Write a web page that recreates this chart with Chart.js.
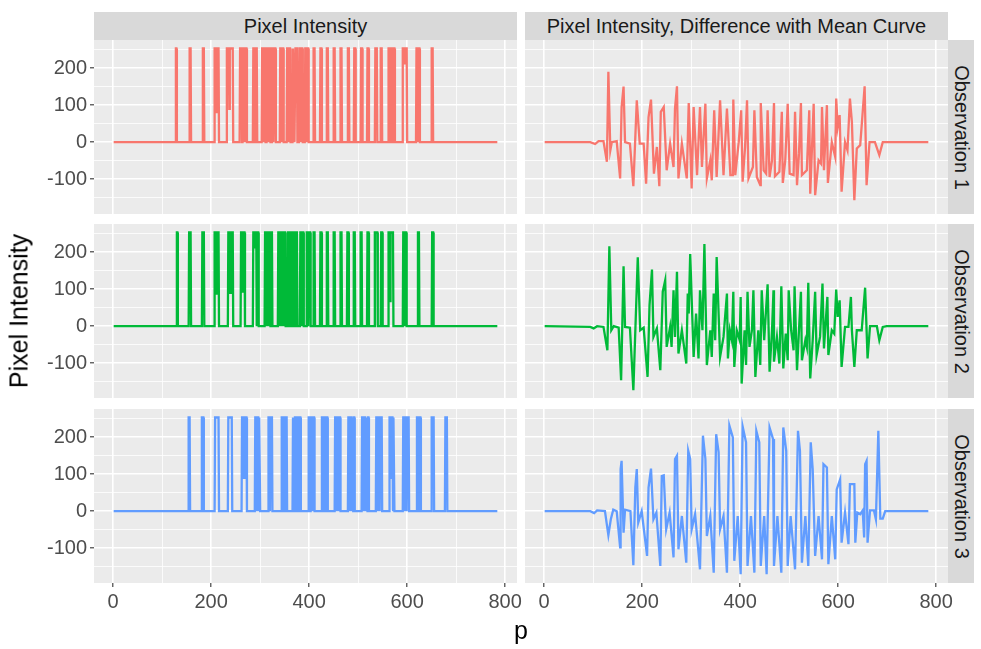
<!DOCTYPE html>
<html>
<head>
<meta charset="utf-8">
<script src="https://cdn.jsdelivr.net/npm/chart.js@4.4.0/dist/chart.umd.min.js"></script>
<style>
  body { margin: 0; background: #fff; }
  #wrap { position: relative; width: 981px; height: 649px; font-family: "Liberation Sans", Arial, sans-serif; }
  #wrap canvas { position: absolute; }
  .strip { position: absolute; background: #D9D9D9; color: #1A1A1A; font-size: 20px;
           display: flex; align-items: center; justify-content: center; }
  .strip.side span { transform: rotate(90deg); white-space: nowrap; }
  .axis-title { position: absolute; color: #000; font-size: 25px; white-space: nowrap; transform: translate(-50%, -50%); }
</style>
</head>
<body>
<div id="wrap"></div>
<script>
// axis breaks
const xMajor = [0, 200, 400, 600, 800];
const xMinor = [100, 300, 500, 700];
const yMajor = [-100, 0, 100, 200];
const yMinor = [-150, -50, 50, 150, 250];

const facetCols = ["Pixel Intensity", "Pixel Intensity, Difference with Mean Curve"];
const facetRows = ["Observation 1", "Observation 2", "Observation 3"];
const rowColors = ["#F8766D", "#00BA38", "#619CFF"];

// raw pixel intensities: [first p, last p, level]; level defaults to 253
const obs1Pulses = [
  [128,129],[156,158],[183,185],[207,209],[210,210,81],[211,215],[232,236],[237,237,90],[238,244],
  [259,262],[264,267],[269,272],[286,288],[291,293],[304,306],[308,310],[314,316],[318,320],
  [324,326],[329,331],[341,343],[345,347],[355,357],[359,361],[367,369],[372,375],[380,382],
  [384,386],[392,394],[396,398],[409,411],[423,425],[436,438],[450,452],[464,466],[479,481],
  [492,494],[506,508],[519,521],[535,538],[546,548],[562,564],[566,569],[571,574],[591,594],
  [595,595,210],[596,599],[619,621],[623,625],[650,652]
];
const obs2Pulses = [
  [130,131],[155,158],[182,185],[207,210],[211,211,85],[212,215],[235,238],[239,239,90],[240,244],
  [261,263],[264,264,90],[265,268],[286,288],[289,289,210],[290,292],[294,296],[310,312],[314,316],
  [318,320],[322,324],[337,339],[341,343],[345,347],[349,351],[357,359],[362,364],[368,370],
  [373,375],[382,384],[386,388],[395,397],[400,402],[409,411],[423,425],[436,438],[450,452],
  [464,466],[478,480],[491,493],[505,507],[519,521],[534,536],[537,539],[547,549],[562,564],
  [565,565,68],[566,568],[569,571],[592,594],[596,598],[622,624],[651,653]
];
const obs3Pulses = [
  [154,156],[181,184],[208,211],[212,215],[235,238],[239,242],[263,266],[267,267,90],[268,272],
  [290,292],[294,296],[298,299],[317,319],[321,324],[344,346],[348,350],[352,354],[367,369],
  [371,373],[375,377],[379,382],[399,401],[403,406],[408,410],[426,428],[430,432],[434,437],
  [453,455],[457,459],[461,463],[480,482],[484,486],[488,489],[491,492],[508,510],[512,514],
  [516,518],[520,521],[537,539],[541,543],[545,548],[564,566],[567,567,90],[568,570],[572,573],
  [592,594],[596,598],[600,603],[620,622],[624,627],[650,652],[653,654],[678,679],[680,681]
];

// difference with the mean curve: [p, value] vertices
const obs1Diff = [
  [1,0],[94,0],[104,-5],[111,3],[121,3],[128,-53],[131,190],[135,-22],[138,0],[148,3],[155,-98],
  [158,95],[162,150],[165,0],[175,-4],[182,-119],[189,113],[195,-4],[203,-4],[208,-112],[213,68],
  [218,115],[224,-85],[230,-13],[235,-119],[238,82],[244,95],[250,-76],[257,-4],[264,-67],[267,91],
  [271,151],[274,-98],[281,-4],[291,-98],[295,106],[301,-125],[305,95],[312,-89],[318,95],[322,-67],
  [329,104],[332,-98],[339,-49],[342,-103],[347,86],[352,-94],[359,113],[366,-89],[373,91],[380,-89],
  [385,-89],[386,115],[390,-89],[397,0],[402,86],[405,-107],[410,-13],[414,113],[417,-98],[426,-67],
  [429,86],[434,-94],[441,-116],[442,106],[448,-76],[453,-85],[456,86],[460,-94],[465,-49],[469,106],
  [471,-92],[480,-80],[485,82],[487,-110],[492,-49],[497,104],[501,-85],[509,-89],[512,82],[516,-116],
  [520,-31],[524,106],[526,-89],[536,-76],[541,86],[543,-139],[550,104],[553,-143],[560,-49],[565,-58],
  [567,95],[571,-76],[577,100],[579,-110],[587,0],[594,-40],[596,118],[599,41],[603,73],[607,-134],
  [614,0],[619,-22],[624,118],[628,55],[633,-157],[638,-17],[645,-8],[654,151],[658,-116],[664,0],
  [675,0],[684,-35],[691,0],[784,0]
];
const obs2Diff = [
  [1,0],[94,-2],[101,-6],[108,0],[121,-2],[129,-65],[133,216],[137,-11],[142,0],[152,-4],[157,-146],
  [162,162],[165,-2],[175,-4],[182,-173],[191,186],[196,-11],[203,-4],[211,-137],[215,57],[220,153],
  [223,-29],[230,-6],[237,-119],[242,93],[247,124],[250,-56],[257,-2],[260,-56],[264,97],[267,-29],
  [271,147],[274,-74],[281,-11],[290,-101],[293,88],[295,34],[298,195],[305,-83],[310,34],[315,-87],
  [318,97],[323,-11],[327,222],[332,-105],[339,-11],[342,-83],[346,88],[349,-38],[352,187],[359,-83],
  [366,-29],[373,88],[375,-87],[379,-11],[383,-38],[386,93],[388,-110],[393,-11],[399,-38],[401,79],
  [403,-155],[409,-11],[412,-105],[415,93],[419,-56],[424,-11],[427,97],[431,-137],[437,-11],[441,-105],
  [444,97],[449,-38],[456,113],[460,-123],[465,-11],[468,97],[469,-96],[475,-29],[480,-101],[484,108],
  [488,-114],[493,-20],[497,-92],[499,97],[504,-11],[509,-65],[511,108],[516,-119],[520,-11],[524,93],
  [526,-92],[533,-38],[536,-56],[539,117],[543,-141],[548,-38],[553,93],[556,-78],[563,-29],[568,115],
  [571,-60],[578,79],[580,-78],[587,-11],[592,-20],[596,99],[599,25],[603,70],[607,-110],[614,-2],
  [621,-2],[626,79],[628,-11],[633,-110],[638,-11],[648,-11],[655,104],[660,-87],[665,0],[679,0],
  [684,-38],[691,-2],[699,0],[784,0]
];
const obs3Diff = [
  [1,0],[94,0],[102,-5],[108,2],[124,0],[131,-65],[136,-22],[141,4],[148,0],[155,-98],[156,114],
  [158,136],[162,-58],[165,4],[176,0],[182,-146],[186,64],[189,114],[192,-31],[199,0],[210,-121],
  [213,64],[218,115],[223,-22],[229,-4],[237,-148],[240,95],[244,97],[249,-49],[256,-4],[264,-125],
  [267,141],[271,150],[274,-103],[281,-13],[290,-139],[294,163],[298,141],[301,-49],[308,-8],[318,-157],
  [324,204],[329,141],[332,-67],[339,-13],[346,-166],[351,208],[356,159],[359,-49],[366,-13],[373,-166],
  [378,231],[385,199],[388,-134],[395,-13],[401,-170],[405,229],[412,186],[415,-148],[422,-13],[429,-166],
  [433,217],[439,186],[442,-148],[449,-13],[454,-170],[460,226],[467,195],[469,-148],[476,-13],[484,-166],
  [488,226],[494,163],[497,-148],[503,-13],[512,-157],[518,217],[522,163],[526,-139],[533,-13],[539,-148],
  [544,186],[548,114],[553,-121],[560,-13],[567,-130],[570,127],[577,118],[580,-143],[587,-13],[594,-130],
  [597,59],[604,86],[607,-85],[614,-4],[621,-89],[624,73],[633,73],[635,-85],[639,-4],[645,-8],[650,2],
  [653,-71],[655,127],[658,136],[660,-85],[665,2],[673,2],[677,-22],[682,217],[686,-20],[691,-20],
  [696,0],[784,0]
];

const rawSeries = [obs1Pulses, obs2Pulses, obs3Pulses];
const diffSeries = [obs1Diff, obs2Diff, obs3Diff];

// panel geometry (px)
const panelLeft = [94, 525], panelW = 423;
const panelTop = [40, 224, 409], panelH = 174;
const xRange = [-39.15, 824.15], yRange = [-194, 276];
const font = { family: "'Liberation Sans', Arial, sans-serif", size: 20 };

// turn pulse runs into polyline vertices over p = 1..784
function pulseLine(pulses) {
  const v = new Array(786).fill(0);
  pulses.forEach(([s, e, h = 253]) => { for (let p = s; p <= e; p++) v[p] = h; });
  const pts = [];
  for (let p = 1; p <= 784; p++) {
    if (p === 1 || p === 784 || v[p] !== v[p - 1] || v[p] !== v[p + 1]) pts.push({ x: p, y: v[p] });
  }
  return pts;
}

const panelBg = {
  id: "panelBg",
  beforeDraw(chart) {
    const { ctx, chartArea: a } = chart;
    ctx.save();
    ctx.fillStyle = "#EBEBEB";
    ctx.fillRect(a.left, a.top, a.width, a.height);
    ctx.restore();
  }
};

function axis(range, major, minor, showLabels, size, horizontal) {
  const all = major.concat(minor).sort((a, b) => a - b);
  return {
    type: "linear",
    min: range[0],
    max: range[1],
    bounds: "data",
    afterBuildTicks: s => { s.ticks = all.map(v => ({ value: v })); },
    afterFit: s => {
      if (horizontal) s.height = size; else s.width = size;
      // no overhang padding: the plot area must fill the panel exactly
      s.paddingLeft = s.paddingRight = s.paddingTop = s.paddingBottom = 0;
    },
    border: { display: false },
    grid: {
      color: "#FFFFFF",
      lineWidth: c => major.includes(c.tick.value) ? 1.6 : 0.8,
      drawTicks: showLabels,
      tickLength: 4,
      tickWidth: 1.1,
      tickColor: c => major.includes(c.tick.value) ? "#333333" : "rgba(0,0,0,0)"
    },
    ticks: {
      display: showLabels,
      autoSkip: false,
      maxRotation: 0,
      padding: 3,
      color: "#4D4D4D",
      font: font,
      callback: v => major.includes(v) ? String(v) : ""
    }
  };
}

const wrap = document.getElementById("wrap");

for (let r = 0; r < 3; r++) {
  for (let c = 0; c < 2; c++) {
    const extraL = c === 0 ? panelLeft[0] - 30 : 0;
    const extraB = r === 2 ? 36 : 0;
    // room for the "800" label hanging past the bottom panels
    const extraR = r === 2 ? 20 : 0;
    const canvas = document.createElement("canvas");
    canvas.width = panelW + extraL + extraR;
    canvas.height = panelH + extraB;
    canvas.style.left = (panelLeft[c] - extraL) + "px";
    canvas.style.top = panelTop[r] + "px";
    wrap.appendChild(canvas);

    const data = c === 0
      ? pulseLine(rawSeries[r])
      : diffSeries[r].map(([x, y]) => ({ x, y }));

    new Chart(canvas.getContext("2d"), {
      type: "line",
      data: {
        datasets: [{
          data: data,
          borderColor: rowColors[r],
          borderWidth: 2.3,
          pointRadius: 0,
          tension: 0,
          fill: false
        }]
      },
      options: {
        responsive: false,
        animation: false,
        events: [],
        layout: { padding: { left: 0, top: 0, bottom: 0, right: extraR }, autoPadding: false },
        plugins: { legend: { display: false }, tooltip: { enabled: false } },
        scales: {
          x: axis(xRange, xMajor, xMinor, r === 2, extraB, true),
          y: axis(yRange, yMajor, yMinor, c === 0, extraL, false)
        }
      },
      plugins: [panelBg]
    });
  }
}

// facet strips
facetCols.forEach((label, c) => {
  const d = document.createElement("div");
  d.className = "strip";
  Object.assign(d.style, { left: panelLeft[c] + "px", top: "12px", width: panelW + "px", height: "28px" });
  d.textContent = label;
  wrap.appendChild(d);
});
facetRows.forEach((label, r) => {
  const d = document.createElement("div");
  d.className = "strip side";
  Object.assign(d.style, { left: (panelLeft[1] + panelW) + "px", top: panelTop[r] + "px", width: "26px", height: panelH + "px" });
  d.innerHTML = "<span>" + label + "</span>";
  wrap.appendChild(d);
});

// shared axis titles
const yTitle = document.createElement("div");
yTitle.className = "axis-title";
yTitle.textContent = "Pixel Intensity";
Object.assign(yTitle.style, { left: "19px", top: "311px", transform: "translate(-50%, -50%) rotate(-90deg)" });
wrap.appendChild(yTitle);

const xTitle = document.createElement("div");
xTitle.className = "axis-title";
xTitle.textContent = "p";
Object.assign(xTitle.style, { left: "521px", top: "630px" });
wrap.appendChild(xTitle);
</script>
</body>
</html>
